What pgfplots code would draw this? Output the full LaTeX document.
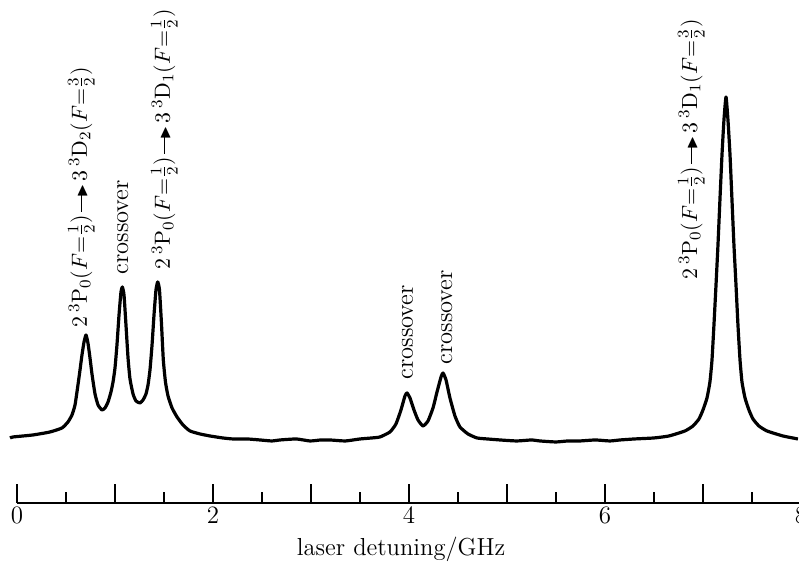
\documentclass[border=0pt]{standalone}
\usepackage{amsmath,amssymb}
\usepackage{graphicx}
\usepackage{pgfplots}
\pgfplotsset{compat=1.18}

% transition arrow with a filled head
\newcommand{\arr}{\kern1.5pt\rule[0.5ex]{9.5pt}{0.5pt}\kern-2.5pt\raisebox{0.02ex}{\scalebox{0.75}{$\blacktriangleright$}}\kern1.5pt}
\newcommand{\lbl}[3]{{\fontsize{11.3}{13}\selectfont$2\,{}^{3}\mathrm{P}_{0}(F{=}\tfrac{1}{2})$\arr$3\,{}^{3}\mathrm{D}_{#1}(F{=}\tfrac{#2}{#3})$}}

\begin{document}
\begin{tikzpicture}[font=\fontsize{12.3}{14}\selectfont]
\begin{axis}[
  x=49pt, y=0.5pt,
  xmin=0, xmax=8, ymin=-63, ymax=440,
  clip=false,
  axis x line=bottom,
  axis y line=none,
  axis line style={-, line width=0.6pt},
  xtick={0,1,...,8},
  xticklabels={0,,2,,4,,6,,8},
  minor xtick={0.5,1.5,...,7.5},
  tick align=inside,
  major tick length=9.5pt,
  minor tick length=5.5pt,
  every tick/.style={black, line width=0.6pt},
  tick label style={font=\fontsize{12.5}{14}\selectfont},
  xticklabel style={inner sep=0pt, yshift=-1.8pt},
  xlabel={laser detuning/GHz},
  x label style={at={(axis cs:3.92,-116)}, anchor=base, inner sep=0pt},
]
\addplot[black, line width=1.6pt, line join=round, smooth, tension=0.3] coordinates {
 (-0.071,2) (-0.041,3) (0.163,5) (0.337,8) (0.459,12) (0.520,18) (0.561,25)
 (0.592,35) (0.622,55) (0.643,70) (0.663,85) (0.684,98) (0.704,105)
 (0.724,97) (0.745,82) (0.765,66) (0.796,46) (0.827,35) (0.867,30) (0.898,32)
 (0.929,38) (0.959,48) (0.980,58) (1.000,72) (1.020,95) (1.041,125) (1.061,148)
 (1.075,153) (1.092,145) (1.112,115) (1.133,82) (1.153,61) (1.184,46) (1.214,39)
 (1.255,37) (1.286,40) (1.316,46) (1.337,55) (1.357,70) (1.378,95) (1.398,125)
 (1.418,150) (1.436,158) (1.454,150) (1.475,115) (1.493,80) (1.515,58)
 (1.541,44) (1.582,32) (1.633,23) (1.694,15) (1.765,9) (1.867,6) (1.969,4)
 (2.100,2) (2.204,1) (2.350,1) (2.480,0) (2.600,-1) (2.684,0) (2.850,1)
 (2.990,-1) (3.100,0) (3.194,0) (3.350,-1) (3.500,1) (3.620,2) (3.704,3)
 (3.806,8) (3.867,16) (3.918,30) (3.959,44) (3.980,47) (4.010,42) (4.051,30)
 (4.092,20) (4.143,14) (4.194,19) (4.245,32) (4.286,48) (4.327,63) (4.347,67)
 (4.378,60) (4.418,42) (4.469,24) (4.520,13) (4.602,6) (4.694,2) (4.800,1)
 (4.929,0) (5.100,-1) (5.250,0) (5.337,-1) (5.500,-2) (5.620,-1) (5.745,-1)
 (5.900,0) (6.050,-1) (6.153,0) (6.300,1) (6.500,2) (6.653,4) (6.816,9)
 (6.898,14) (6.959,21) (7.000,30) (7.041,42) (7.071,58) (7.092,80) (7.112,115)
 (7.133,155) (7.153,195) (7.173,240) (7.194,285) (7.214,320) (7.235,343)
 (7.255,320) (7.276,285) (7.296,240) (7.316,195) (7.337,155) (7.357,115)
 (7.378,80) (7.398,58) (7.429,42) (7.469,30) (7.510,21) (7.571,14) (7.653,9)
 (7.816,4) (7.969,1)
};
% peak assignments
\begin{scope}[every node/.style={rotate=90, anchor=base west, inner sep=0pt}]
\node at (axis cs:0.714,112) {\lbl{2}{3}{2}};
\node at (axis cs:1.133,165) {crossover};
\node at (axis cs:1.561,170) {\lbl{1}{1}{2}};
\node at (axis cs:4.040,60) {crossover};
\node at (axis cs:4.440,75) {crossover};
\node at (axis cs:6.940,160) {\lbl{1}{3}{2}};
\end{scope}
\coordinate (bbll) at (axis cs:-0.1735,-125);
\coordinate (bbur) at (axis cs:7.98,440);
\end{axis}
\pgfresetboundingbox
\useasboundingbox (bbll) rectangle (bbur);
\end{tikzpicture}
\end{document}
